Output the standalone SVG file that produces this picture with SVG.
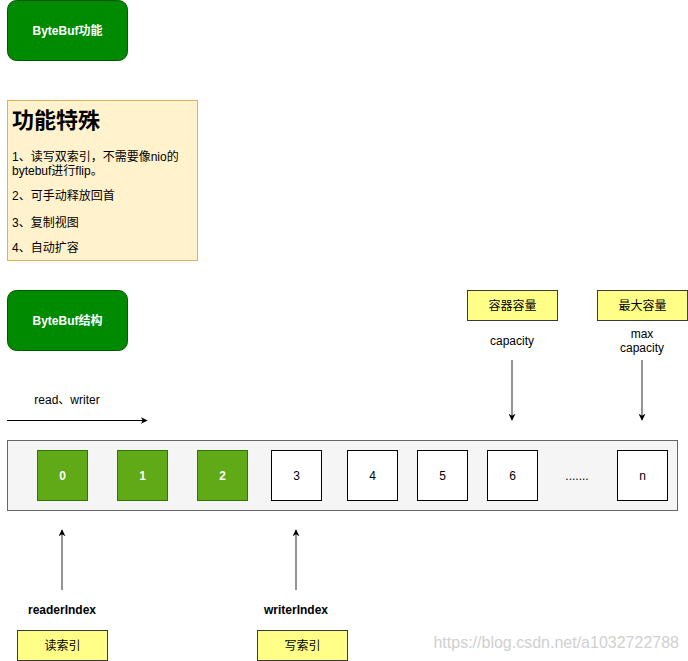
<svg xmlns="http://www.w3.org/2000/svg" width="688" height="661" viewBox="0 0 688 661">
<style>
text{font-family:"Liberation Sans",Arial,"Noto Sans CJK SC",sans-serif;font-size:12px;fill:#000}
.c{text-anchor:middle;dominant-baseline:central}
.w{fill:#fff;font-weight:bold}
.title{fill:#008a00;stroke:#005700}
.note{fill:#fff2cc;stroke:#d6b656}
.cont{fill:#f5f5f5;stroke:#666}
.g{fill:#60a917;stroke:#2d7600}
.e{fill:#fff;stroke:#000}
.y{fill:#ffff88;stroke:#36393d}
.ln{stroke:#707070;stroke-width:1.5;fill:none}
</style>
<defs>
<marker id="ah" viewBox="0 0 10 10" refX="9" refY="5" markerWidth="7" markerHeight="7" orient="auto" markerUnits="userSpaceOnUse"><path d="M0,0 L10,5 L0,10 L3,5 Z" fill="#000"/></marker>
</defs>
<g id="n-func"><rect class="title" x="7.5" y="0.5" width="120" height="60" rx="9"/><text class="c w" x="67.5" y="30.5">ByteBuf功能</text></g>
<g id="n-note"><rect class="note" x="7.5" y="100.5" width="190" height="160"/>
<text x="12" y="128" style="font-size:22px;font-weight:bold">功能特殊</text>
<text x="12" y="161">1、读写双索引，不需要像nio的</text>
<text x="12" y="175">bytebuf进行flip。</text>
<text x="12" y="200">2、可手动释放回首</text>
<text x="12" y="227">3、复制视图</text>
<text x="12" y="252">4、自动扩容</text></g>
<g id="n-struct"><rect class="title" x="7.5" y="290.5" width="120" height="60" rx="9"/><text class="c w" x="67.5" y="320.5">ByteBuf结构</text></g>
<g id="n-rw"><text class="c" x="67" y="400">read、writer</text></g>
<g id="n-cont"><rect class="cont" x="7.5" y="440.5" width="670" height="70"/></g>
<g id="n-0"><rect class="g" x="37.5" y="450.5" width="50" height="50"/><text class="c w" x="62.5" y="475.5">0</text></g>
<g id="n-1"><rect class="g" x="117.5" y="450.5" width="50" height="50"/><text class="c w" x="142.5" y="475.5">1</text></g>
<g id="n-2"><rect class="g" x="197.5" y="450.5" width="50" height="50"/><text class="c w" x="222.5" y="475.5">2</text></g>
<g id="n-3"><rect class="e" x="271.5" y="450.5" width="50" height="50"/><text class="c" x="296.5" y="475.5">3</text></g>
<g id="n-4"><rect class="e" x="347.5" y="450.5" width="50" height="50"/><text class="c" x="372.5" y="475.5">4</text></g>
<g id="n-5"><rect class="e" x="417.5" y="450.5" width="50" height="50"/><text class="c" x="442.5" y="475.5">5</text></g>
<g id="n-6"><rect class="e" x="487.5" y="450.5" width="50" height="50"/><text class="c" x="512.5" y="475.5">6</text></g>
<g id="n-dots"><text class="c" x="577" y="476">.......</text></g>
<g id="n-n"><rect class="e" x="617.5" y="450.5" width="50" height="50"/><text class="c" x="642.5" y="475.5">n</text></g>
<g id="n-cap"><rect class="y" x="467.5" y="290.5" width="90" height="30"/><text class="c" x="512.5" y="305.5">容器容量</text></g>
<g id="n-max"><rect class="y" x="597.5" y="290.5" width="90" height="30"/><text class="c" x="642.5" y="305.5">最大容量</text></g>
<g id="n-captxt"><text class="c" x="512" y="341">capacity</text></g>
<g id="n-maxtxt"><text class="c" x="642" y="334">max</text><text class="c" x="642" y="348">capacity</text></g>
<g id="n-ri"><text class="c" x="62" y="610" style="font-weight:bold">readerIndex</text></g>
<g id="n-wi"><text class="c" x="296" y="610" style="font-weight:bold">writerIndex</text></g>
<g id="n-rbox"><rect class="y" x="17.5" y="630.5" width="90" height="30"/><text class="c" x="62.5" y="645.5">读索引</text></g>
<g id="n-wbox"><rect class="y" x="257.5" y="630.5" width="90" height="30"/><text class="c" x="302.5" y="645.5">写索引</text></g>
<g id="connectors">
<line x1="7" y1="420.5" x2="147" y2="420.5" stroke="#000" stroke-width="1" marker-end="url(#ah)"/>
<line class="ln" x1="512" y1="360" x2="512" y2="420" marker-end="url(#ah)"/>
<line class="ln" x1="642" y1="360" x2="642" y2="420" marker-end="url(#ah)"/>
<line class="ln" x1="62" y1="590" x2="62" y2="530" marker-end="url(#ah)"/>
<line class="ln" x1="296" y1="590" x2="296" y2="530" marker-end="url(#ah)"/>
</g>
<text x="679" y="648" style="font-size:16px;fill:#d0d0d0;text-anchor:end">https://blog.csdn.net/a1032722788</text>
</svg>
